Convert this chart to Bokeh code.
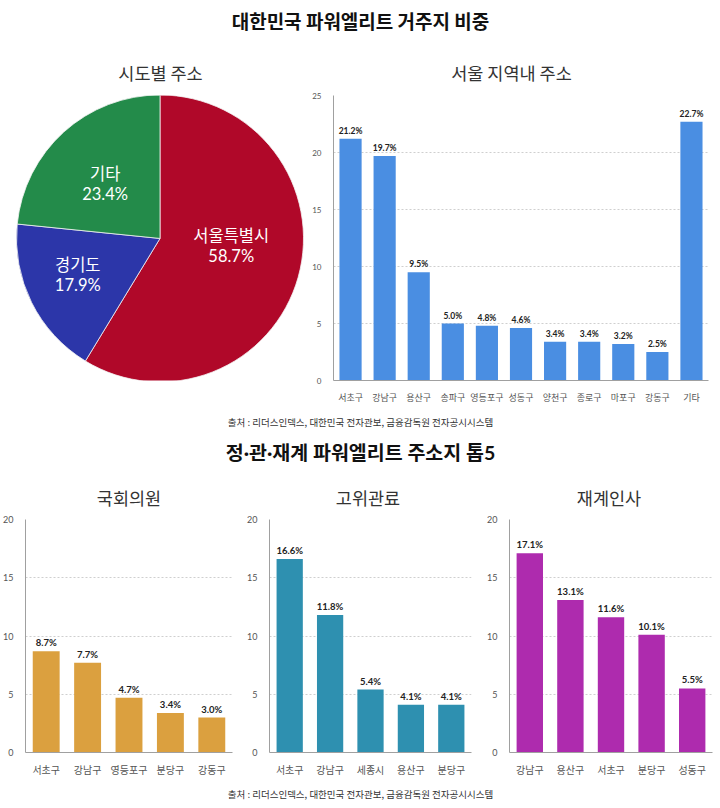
import math
from bokeh.plotting import figure
from bokeh.layouts import column, row
from bokeh.models import Range1d, FactorRange, FixedTicker, ColumnDataSource
from bokeh.core.properties import value
from bokeh.embed import file_html
from bokeh.resources import INLINE

# ---------------- data ----------------
main_title = "대한민국 파워엘리트 거주지 비중"
pie_title = "시도별 주소"
seoul_title = "서울 지역내 주소"
source_text = "출처 : 리더스인덱스, 대한민국 전자관보, 금융감독원 전자공시시스템"
second_title = "정·관·재계 파워엘리트 주소지 톱5"

pie_labels = ["서울특별시", "경기도", "기타"]
pie_values = [58.7, 17.9, 23.4]

seoul_districts = ["서초구", "강남구", "용산구", "송파구", "영등포구", "성동구",
                   "양천구", "종로구", "마포구", "강동구", "기타"]
seoul_values = [21.2, 19.7, 9.5, 5.0, 4.8, 4.6, 3.4, 3.4, 3.2, 2.5, 22.7]
seoul_ticks = [0, 5, 10, 15, 20, 25]

group_titles = ["국회의원", "고위관료", "재계인사"]
assembly_cats = ["서초구", "강남구", "영등포구", "분당구", "강동구"]
assembly_vals = [8.7, 7.7, 4.7, 3.4, 3.0]
official_cats = ["서초구", "강남구", "세종시", "용산구", "분당구"]
official_vals = [16.6, 11.8, 5.4, 4.1, 4.1]
business_cats = ["강남구", "용산구", "서초구", "분당구", "성동구"]
business_vals = [17.1, 13.1, 11.6, 10.1, 5.5]
group_ticks = [0, 5, 10, 15, 20]

# ---------------- styles ----------------
FONT = "Lato, 'Noto Sans CJK KR', sans-serif"
KFONT = "'Noto Sans CJK KR', sans-serif"
pie_colors = ["#B00829", "#2C36A9", "#238B4A"]
seoul_color = "#4A8EE2"
group_colors = ["#DBA03F", "#2E90B0", "#AE2BAE"]
# label placement inside slices: (radial fraction, angular shift in degrees)
pie_label_place = [(0.5, 8.7), (0.64, 0.0), (0.57, 0.0)]


def blank(width, height):
    p = figure(width=width, height=height, output_backend="svg", toolbar_location=None,
               x_range=Range1d(0, width), y_range=Range1d(height, 0),
               min_border=0, min_border_left=0, min_border_right=0,
               min_border_top=0, min_border_bottom=0)
    p.axis.visible = False
    p.grid.visible = False
    p.outline_line_color = None
    return p


def put_text(p, x, y, txt, size, bold=False, color="#222222", font=KFONT):
    p.text(x=[x], y=[y], text=[txt], text_font=value(font), text_font_size=size,
           text_font_style="bold" if bold else "normal", text_color=color,
           text_align="center", text_baseline="middle")


def bar_chart(cats, vals, color, width, height, ymax, ticks, bl, br, bt, bb,
              tick_size, cat_size, val_size):
    p = figure(width=width, height=height, output_backend="svg", toolbar_location=None,
               x_range=FactorRange(*cats, range_padding=0), y_range=Range1d(0, ymax),
               min_border_left=bl, min_border_right=br, min_border_top=bt,
               min_border_bottom=bb)
    p.outline_line_color = None
    src = ColumnDataSource(dict(x=cats, top=vals, lab=[f"{v:.1f}%" for v in vals]))
    p.vbar(x="x", top="top", width=0.65, source=src, fill_color=color, line_color=None)
    p.text(x="x", y="top", text="lab", source=src, text_font=value(FONT),
           text_font_size=val_size, text_font_style="bold", text_color="#222222",
           text_align="center", text_baseline="bottom", y_offset=-3)
    p.yaxis.ticker = FixedTicker(ticks=ticks)
    p.ygrid.ticker = FixedTicker(ticks=ticks)
    p.xgrid.visible = False
    p.ygrid.grid_line_color = "#cfcfcf"
    p.ygrid.grid_line_dash = "2 2"
    for ax in (p.xaxis, p.yaxis):
        ax.axis_line_color = "#a0a0a0"
        ax.major_tick_line_color = None
        ax.minor_tick_line_color = None
        ax.major_label_text_font = FONT
        ax.major_label_text_color = "#555555"
    p.yaxis.major_label_text_font_size = tick_size
    p.yaxis.major_label_standoff = 6
    p.xaxis.major_label_text_font_size = cat_size
    p.xaxis.major_label_standoff = 5
    return p


# ---------------- header ----------------
header = blank(720, 86)
put_text(header, 360, 20, main_title, "19px", bold=True, color="#111111")
put_text(header, 160, 72, pie_title, "17.5px", color="#333333")
put_text(header, 511, 72, seoul_title, "17.5px", color="#333333")

# ---------------- pie ----------------
PW, PH = 305, 319
pie = figure(width=PW, height=PH, output_backend="svg", toolbar_location=None,
             x_range=Range1d(0, PW), y_range=Range1d(0, PH),
             min_border=0, min_border_left=0, min_border_right=0,
             min_border_top=0, min_border_bottom=0)
pie.axis.visible = False
pie.grid.visible = False
pie.outline_line_color = None
cx, cy, r = 159.5, 159, 143.5
total = sum(pie_values)
starts, ends, mids = [], [], []
acc = 0.0
for v in pie_values:
    a0 = math.pi / 2 - 2 * math.pi * acc / total
    acc += v
    a1 = math.pi / 2 - 2 * math.pi * acc / total
    starts.append(a0)
    ends.append(a1)
    mids.append((a0 + a1) / 2)
pie.wedge(x=cx, y=cy, radius=r, start_angle=starts, end_angle=ends, direction="clock",
          fill_color=pie_colors, line_color="#f2f2f2", line_width=0.8)
lx, ly = [], []
for m, (f, da) in zip(mids, pie_label_place):
    a = m + math.radians(da)
    lx.append(cx + f * r * math.cos(a))
    ly.append(cy + f * r * math.sin(a))
pie.text(x=lx, y=ly, text=pie_labels, text_font=value(FONT), text_font_size="16.5px",
         text_color="white", text_align="center", text_baseline="middle", y_offset=-10)
pie.text(x=lx, y=ly, text=[f"{v:.1f}%" for v in pie_values], text_font=value(FONT),
         text_font_size="16.5px", text_color="white", text_align="center",
         text_baseline="middle", y_offset=10)

seoul = bar_chart(seoul_districts, seoul_values, seoul_color, 415, 319, 25, seoul_ticks,
                  28, 12, 9, 25, "8px", "9px", "8.5px")

# ---------------- middle ----------------
mid = blank(720, 105)
put_text(mid, 360, 16, source_text, "9.5px", color="#333333")
put_text(mid, 360, 47, second_title, "19.5px", bold=True, color="#111111", font=FONT)
for x, t in zip([128.5, 367.5, 608.5], group_titles):
    put_text(mid, x, 92, t, "17.5px", color="#333333")

g1 = bar_chart(assembly_cats, assembly_vals, group_colors[0], 244, 268, 20, group_ticks,
               25, 12, 9, 22, "9px", "10px", "9.5px")
g2 = bar_chart(official_cats, official_vals, group_colors[1], 240, 268, 20, group_ticks,
               20, 13, 9, 22, "9px", "10px", "9.5px")
g3 = bar_chart(business_cats, business_vals, group_colors[2], 236, 268, 20, group_ticks,
               21, 8, 9, 22, "9px", "10px", "9.5px")

footer = blank(720, 30)
put_text(footer, 360, 15, source_text, "9.5px", color="#333333")

layout = column(header, row(pie, seoul), mid, row(g1, g2, g3), footer)
open("out.html", "w").write(file_html(layout, INLINE))
